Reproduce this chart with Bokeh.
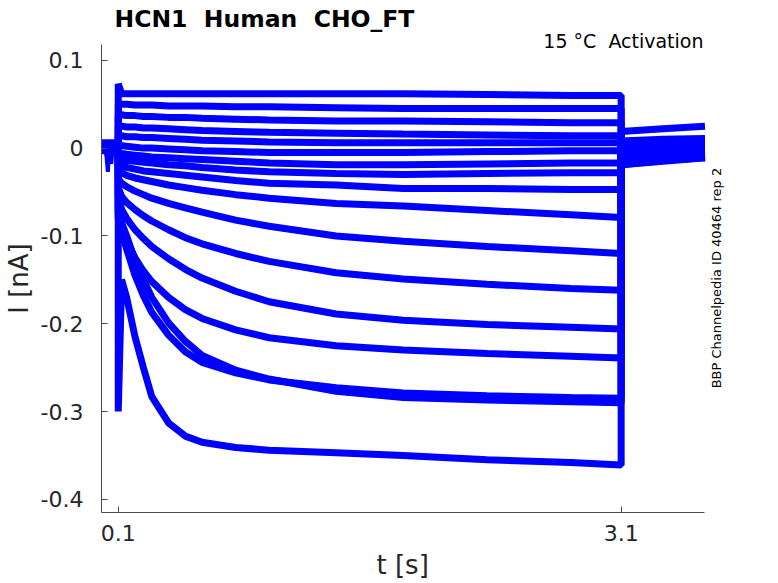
from bokeh.plotting import figure
from bokeh.models import FixedTicker, CustomJSTickFormatter, Label, Title
from bokeh.embed import file_html
from bokeh.resources import INLINE
import math

# ---------------- data ----------------
TITLE = "HCN1\u00a0 Human\u00a0 CHO_FT"
SUBTITLE = "15 °C\u00a0 Activation"
SIDE_NOTE = "BBP Channelpedia ID 40464 rep 2"
X_LABEL = "t [s]"
Y_LABEL = "I [nA]"
X_TICKS = [0.1, 3.1]
Y_TICKS = [-0.4, -0.3, -0.2, -0.1, 0, 0.1]
X_AXIS_SPAN = (0.0, 3.6)

# holding period (before the step)
HOLD_T = [0.0, 0.1]
BASE = [0.006, 0.004, 0.003, 0.002, 0.001, 0.0, -0.001, -0.002, 0.005,
        -0.003, 0.004, 0.0, 0.002, -0.002, 0.003, 0.001, -0.001]
# noisy dip of the holding current
DIP_T = [0.0, 0.02, 0.03, 0.038, 0.042, 0.048, 0.058, 0.064, 0.07, 0.1]
DIP_V = [0.0, 0.002, -0.01, -0.027, -0.012, -0.005, -0.018, -0.006, 0.0, 0.0]

# test pulse
STEP_T = [0.1, 0.12, 0.15, 0.2, 0.25, 0.3, 0.4, 0.5, 0.6, 0.8, 1.0, 1.4, 1.8, 2.3, 2.8, 3.1]
U1 = [0.073, 0.062, 0.062, 0.062, 0.062, 0.062, 0.062, 0.062, 0.062, 0.062, 0.062, 0.062, 0.062, 0.061, 0.060, 0.060]
U2 = [0.050, 0.050, 0.050, 0.049, 0.049, 0.049, 0.048, 0.048, 0.048, 0.047, 0.047, 0.046, 0.045, 0.045, 0.045, 0.045]
U3 = [0.038, 0.038, 0.037, 0.037, 0.036, 0.036, 0.035, 0.035, 0.034, 0.033, 0.032, 0.031, 0.031, 0.030, 0.029, 0.029]
U4 = [0.026, 0.025, 0.024, 0.024, 0.023, 0.023, 0.022, 0.021, 0.020, 0.019, 0.018, 0.017, 0.016, 0.015, 0.014, 0.014]
U5 = [0.015, 0.014, 0.013, 0.013, 0.012, 0.012, 0.011, 0.010, 0.009, 0.008, 0.007, 0.006, 0.006, 0.006, 0.006, 0.006]
U6 = [0.004, 0.003, 0.002, 0.001, 0.0, 0.0, -0.001, -0.002, -0.003, -0.004, -0.005, -0.005, -0.005, -0.004, -0.003, -0.003]
U7 = [-0.005, -0.006, -0.007, -0.008, -0.009, -0.010, -0.011, -0.012, -0.013, -0.015, -0.017, -0.019, -0.019, -0.018, -0.017, -0.017]
U8 = [-0.012, -0.013, -0.014, -0.015, -0.016, -0.017, -0.019, -0.020, -0.022, -0.025, -0.027, -0.029, -0.030, -0.029, -0.028, -0.028]
E1 = [-0.018, -0.020, -0.022, -0.024, -0.026, -0.027, -0.029, -0.031, -0.033, -0.037, -0.040, -0.042, -0.046, -0.046, -0.047, -0.047]
E2 = [-0.025, -0.028, -0.031, -0.034, -0.036, -0.038, -0.042, -0.045, -0.048, -0.053, -0.057, -0.063, -0.066, -0.071, -0.076, -0.079]
E3 = [-0.035, -0.040, -0.044, -0.049, -0.053, -0.057, -0.063, -0.068, -0.073, -0.082, -0.089, -0.100, -0.106, -0.112, -0.117, -0.120]
E4 = [-0.045, -0.055, -0.062, -0.070, -0.077, -0.083, -0.093, -0.102, -0.109, -0.120, -0.129, -0.142, -0.149, -0.155, -0.160, -0.162]
E5 = [-0.055, -0.070, -0.080, -0.093, -0.103, -0.112, -0.126, -0.138, -0.148, -0.163, -0.175, -0.189, -0.196, -0.201, -0.204, -0.206]
E6 = [-0.070, -0.090, -0.105, -0.125, -0.140, -0.152, -0.170, -0.184, -0.194, -0.207, -0.216, -0.225, -0.230, -0.234, -0.237, -0.239]
E7A = [-0.080, -0.095, -0.115, -0.145, -0.168, -0.187, -0.213, -0.232, -0.244, -0.256, -0.264, -0.273, -0.279, -0.282, -0.284, -0.285]
E7B = [-0.075, -0.085, -0.100, -0.128, -0.150, -0.170, -0.199, -0.220, -0.236, -0.253, -0.263, -0.277, -0.284, -0.287, -0.289, -0.290]
E8 = [-0.300, -0.150, -0.170, -0.215, -0.250, -0.283, -0.313, -0.328, -0.335, -0.341, -0.344, -0.347, -0.350, -0.355, -0.358, -0.361]
STEPS = [U1, U2, U3, U4, U5, U6, U7, U8, E1, E2, E3, E4, E5, E6, E7A, E7B, E8]

# tail period (after the step)
TAIL_T = [3.1, 3.35, 3.6]
TAILS = [
    [-0.019, -0.015, -0.011], [-0.019, -0.014, -0.011], [-0.018, -0.013, -0.010],
    [-0.016, -0.012, -0.009], [-0.014, -0.010, -0.008], [-0.012, -0.009, -0.006],
    [-0.010, -0.007, -0.005], [-0.008, -0.005, -0.003], [-0.006, -0.004, -0.002],
    [-0.004, -0.002, -0.001], [-0.002, 0.000, 0.001], [0.000, 0.002, 0.003],
    [0.002, 0.004, 0.005], [0.004, 0.006, 0.007], [0.008, 0.010, 0.011],
    [0.006, 0.008, 0.009], [0.019, 0.022, 0.025],
]

# ---------------- figure ----------------
FONT = "DejaVu Sans"
AX = "#262626"
BLUE = "#0000ff"

p = figure(width=778, height=583, x_range=(0.0, 3.8), y_range=(-0.415, 0.118),
           output_backend="svg", toolbar_location=None,
           min_border_left=101, min_border_right=40, min_border_top=43, min_border_bottom=71)

p.grid.visible = False
p.outline_line_color = None
p.background_fill_color = "white"
p.border_fill_color = "white"

for ax in (p.xaxis[0], p.yaxis[0]):
    ax.axis_line_color = "#4a4a4a"
    ax.major_tick_line_color = "#4a4a4a"
    ax.major_tick_in = 6
    ax.major_tick_out = 0
    ax.minor_tick_line_color = None
    ax.major_label_text_font = FONT
    ax.major_label_text_font_size = "22px"
    ax.major_label_text_color = AX
    ax.axis_label_text_font = FONT
    ax.axis_label_text_font_size = "26px"
    ax.axis_label_text_font_style = "normal"
    ax.axis_label_text_color = AX

fmt = CustomJSTickFormatter(code="return tick == 0 ? '0' : tick.toFixed(1);")
p.xaxis.ticker = FixedTicker(ticks=X_TICKS)
p.yaxis.ticker = FixedTicker(ticks=Y_TICKS)
p.xaxis.bounds = X_AXIS_SPAN
p.xaxis.formatter = fmt
p.yaxis.formatter = fmt
p.yaxis.axis_label = Y_LABEL
p.xaxis.major_label_standoff = 12
p.yaxis.major_label_standoff = 18
p.yaxis.axis_label_standoff = 4

# x-axis label, placed under the tick labels and centred on the axis line
p.add_layout(Title(text=X_LABEL, align="left", offset=275, standoff=8,
                   text_font=FONT, text_font_size="26px", text_font_style="normal",
                   text_color=AX), "below")

# subtitle (closest to the frame) and title
p.add_layout(Title(text=SUBTITLE, align="right", offset=35, standoff=-15,
                   text_font=FONT, text_font_size="19px", text_font_style="normal",
                   text_color="#000000"), "above")
p.add_layout(Title(text=TITLE, align="left", offset=13, standoff=4.5,
                   text_font=FONT, text_font_size="23.5px", text_font_style="bold",
                   text_color="#000000"), "above")

# traces
p.line(DIP_T, DIP_V, line_color=BLUE, line_width=4)
for b, step, tail in zip(BASE, STEPS, TAILS):
    ts = HOLD_T + STEP_T + TAIL_T
    vs = [b, b] + step + tail
    p.line(ts, vs, line_color=BLUE, line_width=7)

# rotated note at the right of the traces
p.add_layout(Label(x=3.669, y=-0.148, text=SIDE_NOTE, angle=math.pi / 2,
                   text_align="center", text_baseline="middle", text_font=FONT,
                   text_font_size="13px", text_color="#000000"))

open("out.html", "w").write(file_html(p, INLINE))
